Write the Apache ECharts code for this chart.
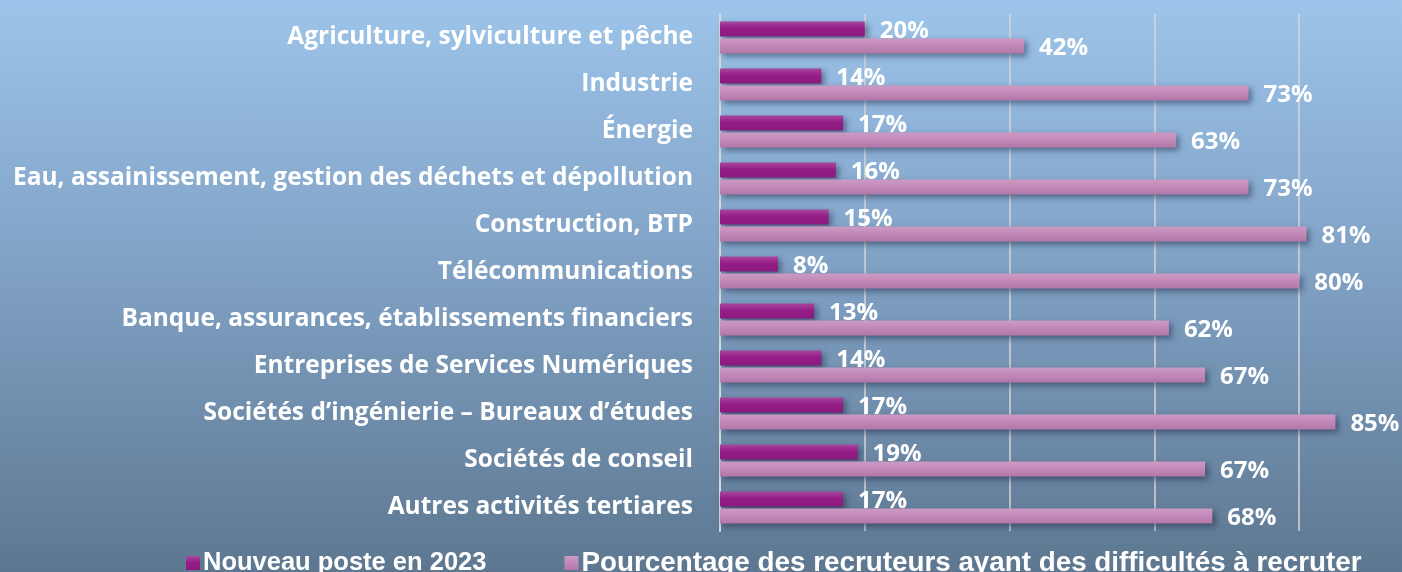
<!DOCTYPE html>
<html>
<head>
<meta charset="utf-8">
<script src="https://cdn.jsdelivr.net/npm/echarts@6/dist/echarts.min.js"></script>
<style>
  html, body { margin: 0; padding: 0; overflow: hidden; }
  body {
    width: 1402px;
    height: 572px;
    background: linear-gradient(to bottom, #9dc4ea 0%, #7e9fc2 50%, #5d7790 100%);
  }
  /* plus large que la fenêtre : la graduation 100 % tombe hors cadre */
  #chart {
    width: 1452px;
    height: 572px;
  }
</style>
</head>
<body>
<div id="chart"></div>
<script>
// secteurs d'activité
var categories = [
  "Agriculture, sylviculture et pêche",
  "Industrie",
  "Énergie",
  "Eau, assainissement, gestion des déchets et dépollution",
  "Construction, BTP",
  "Télécommunications",
  "Banque, assurances, établissements financiers",
  "Entreprises de Services Numériques",
  "Sociétés d’ingénierie – Bureaux d’études",
  "Sociétés de conseil",
  "Autres activités tertiares"
];
var nouveauPoste = [20, 14, 17, 16, 15, 8, 13, 14, 17, 19, 17];
var difficultes = [42, 73, 63, 73, 81, 80, 62, 67, 85, 67, 68];

var seriesNames = ["Nouveau poste en 2023", "Pourcentage des recruteurs ayant des difficultés à recruter"];

var font = "'Open Sans', 'Liberation Sans', Arial, sans-serif";
var legendFont = "'Liberation Sans', Arial, sans-serif";

function barLabel() {
  return {
    show: true,
    position: "right",
    distance: 15,
    offset: [0, 2],
    color: "#ffffff",
    fontSize: 24,
    fontWeight: "bold",
    fontFamily: font,
    formatter: "{c}%"
  };
}

var myChart = echarts.init(document.getElementById("chart"));
var option = {
  animation: false,
  grid: {
    left: 720,
    right: 8,
    top: 14,
    bottom: 41
  },
  legend: {
    data: [
      { name: seriesNames[0], textStyle: { fontSize: 25.5 } },
      { name: seriesNames[1], textStyle: { fontSize: 27.8 } }
    ],
    left: 186,
    top: 549,
    padding: 0,
    itemWidth: 14,
    itemHeight: 14,
    itemGap: 78,
    icon: "rect",
    textStyle: {
      color: "#ffffff",
      fontWeight: "bold",
      fontFamily: legendFont,
      padding: [3, 0, 0, -2]
    }
  },
  xAxis: {
    type: "value",
    min: 0,
    max: 100,
    interval: 20,
    axisLabel: { show: false },
    axisLine: { show: false },
    axisTick: { show: false },
    splitLine: {
      lineStyle: { color: "#d6d6d6", width: 1.5 }
    }
  },
  yAxis: {
    type: "category",
    inverse: true,
    data: categories,
    axisLine: {
      lineStyle: { color: "#d9d9d9", width: 2 }
    },
    axisTick: {
      length: 8,
      lineStyle: { color: "#d9d9d9", width: 2 }
    },
    axisLabel: {
      color: "#ffffff",
      fontSize: 24.5,
      fontWeight: "bold",
      fontFamily: font,
      padding: [4, 0, 0, 0],
      margin: 27
    }
  },
  series: [
    {
      name: seriesNames[0],
      type: "bar",
      data: nouveauPoste,
      barWidth: 15,
      barGap: "13%",
      itemStyle: {
        color: new echarts.graphic.LinearGradient(0, 0, 0, 1, [
          { offset: 0, color: "#a6489e" },
          { offset: 0.45, color: "#951d86" },
          { offset: 1, color: "#8b1a7d" }
        ]),
        shadowColor: "rgba(20, 30, 60, 0.5)",
        shadowBlur: 6,
        shadowOffsetX: 3,
        shadowOffsetY: 3
      },
      label: barLabel()
    },
    {
      name: seriesNames[1],
      type: "bar",
      data: difficultes,
      barWidth: 15,
      itemStyle: {
        color: new echarts.graphic.LinearGradient(0, 0, 0, 1, [
          { offset: 0, color: "#cb9bc4" },
          { offset: 0.45, color: "#c48ab9" },
          { offset: 1, color: "#b177a7" }
        ]),
        shadowColor: "rgba(20, 30, 60, 0.5)",
        shadowBlur: 6,
        shadowOffsetX: 3,
        shadowOffsetY: 3
      },
      label: barLabel()
    }
  ]
};
myChart.setOption(option);
</script>
</body>
</html>
